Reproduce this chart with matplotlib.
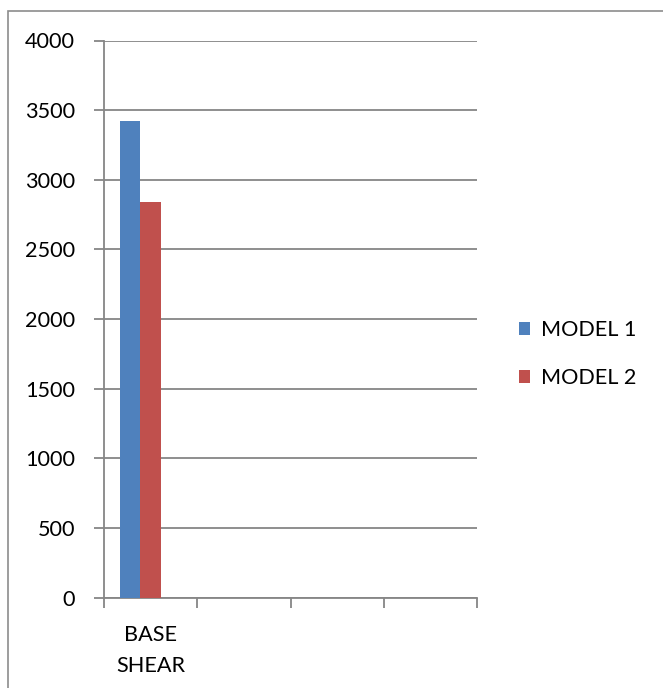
import matplotlib
matplotlib.use("Agg")
import matplotlib.pyplot as plt
from matplotlib.patches import Rectangle
import numpy as np

categories = ["BASE\nSHEAR", "", "", ""]
model1 = [3420, None, None, None]
model2 = [2840, None, None, None]
series_names = ["MODEL 1", "MODEL 2"]
y_ticks = [0, 500, 1000, 1500, 2000, 2500, 3000, 3500, 4000]

plt.rcParams["font.family"] = ["Lato", "DejaVu Sans"]
FS = 15.6

W, H = 663, 688
fig = plt.figure(figsize=(W / 100, H / 100), dpi=100)
fig.patch.set_facecolor("white")

# outer frame (open at right and bottom)
fig.add_artist(Rectangle((7.5 / W, -0.1), 1.2, 1.1 - 10.5 / H,
                         transform=fig.transFigure, fill=False,
                         edgecolor="#8c8c8c", linewidth=1.2))

ax = fig.add_axes([104 / W, (H - 597.5) / H, (477 - 104) / W, (597.5 - 40.5) / H])

gray = "#868686"
blue = "#4f81bd"
red = "#c0504d"

n = len(categories)
centers = np.arange(n) + 0.5
bw = 1 / 4.5
v1 = [np.nan if v is None else v for v in model1]
v2 = [np.nan if v is None else v for v in model2]
b1 = ax.bar(centers - bw, v1, width=bw, color=blue, label=series_names[0], zorder=3)
b2 = ax.bar(centers, v2, width=bw, color=red, label=series_names[1], zorder=3)

ax.set_xlim(0, n)
ax.set_ylim(0, 4000)
ax.set_yticks(y_ticks)
ax.set_yticklabels([str(t) for t in y_ticks], fontsize=FS)
ax.yaxis.grid(True, color=gray, linewidth=1.3, zorder=0)
ax.set_axisbelow(True)

ax.set_xticks(np.arange(n + 1))
ax.set_xticklabels([""] * (n + 1))
ax.set_xticks(centers, minor=True)
ax.set_xticklabels(categories, minor=True, fontsize=FS, linespacing=1.65)
ax.tick_params(axis="x", which="minor", length=0, pad=20)
ax.tick_params(axis="x", which="major", length=7, width=1.3, color=gray)
ax.tick_params(axis="y", length=7, width=1.3, color=gray, pad=14)

for s in ["top", "right"]:
    ax.spines[s].set_visible(False)
for s in ["left", "bottom"]:
    ax.spines[s].set_color(gray)
    ax.spines[s].set_linewidth(1.3)

fig.legend(handles=[b1, b2], labels=series_names,
           loc="center left", bbox_to_anchor=(499 / W, 1 - 354 / H),
           frameon=False, fontsize=FS, handlelength=0.55, handleheight=0.55,
           handletextpad=0.5, labelspacing=1.3)

fig.savefig("out.png", dpi=100)
